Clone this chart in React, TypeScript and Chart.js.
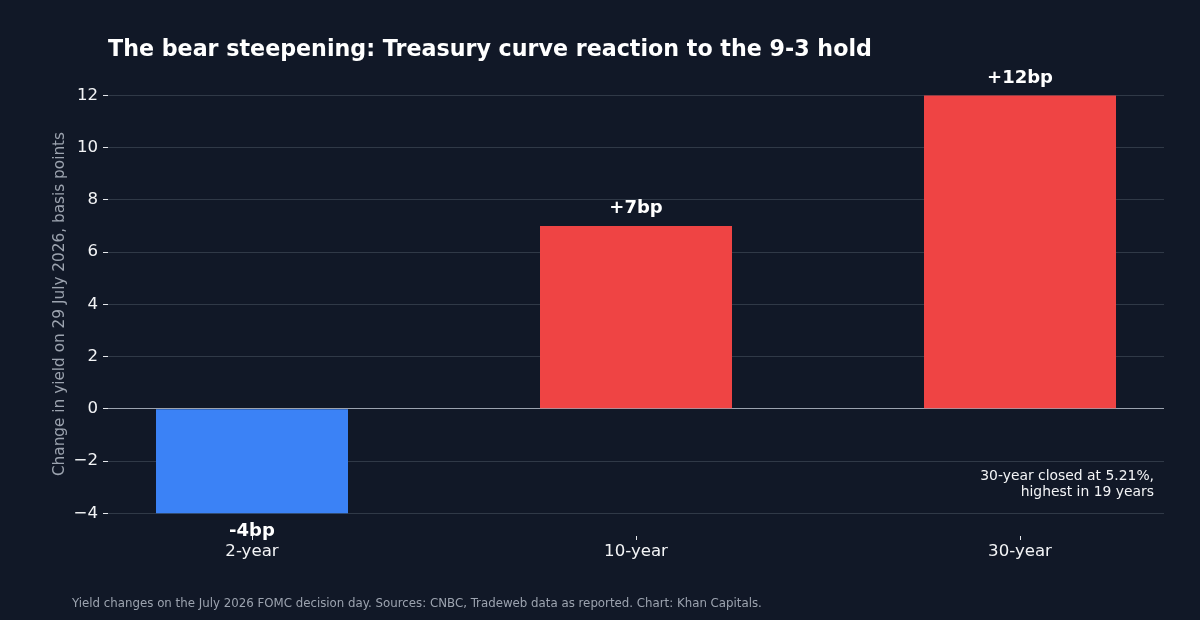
import React, { useEffect, useRef } from 'react';
import { Chart, ChartConfiguration, Plugin, registerables } from 'chart.js';

Chart.register(...registerables);

const categories = ['2-year', '10-year', '30-year'];
const yieldChanges = [-4, 7, 12];
const barColors = ['#3b82f6', '#ef4444', '#ef4444'];
const yTicks = [-4, -2, 0, 2, 4, 6, 8, 10, 12];

const TITLE = 'The bear steepening: Treasury curve reaction to the 9-3 hold';
const Y_TITLE = 'Change in yield on 29 July 2026, basis points';
const NOTE = ['30-year closed at 5.21%,', 'highest in 19 years'];
const FOOTER =
  'Yield changes on the July 2026 FOMC decision day. Sources: CNBC, Tradeweb data as reported. Chart: Khan Capitals.';

const FONT = '"DejaVu Sans", sans-serif';

const fmtBp = (v: number) => (v > 0 ? `+${v}bp` : `${v}bp`);

// draws title, axis title, bar labels, note and footer
const textPlugin: Plugin<'bar'> = {
  id: 'textPlugin',
  afterDatasetsDraw(chart) {
    const { ctx, chartArea } = chart;
    ctx.save();

    ctx.fillStyle = '#ffffff';
    ctx.font = `bold 22.2px ${FONT}`;
    ctx.textAlign = 'left';
    ctx.textBaseline = 'middle';
    ctx.fillText(TITLE, chartArea.left, 50);

    // y axis title
    ctx.save();
    ctx.translate(60, (chartArea.top + chartArea.bottom) / 2);
    ctx.rotate(-Math.PI / 2);
    ctx.fillStyle = '#9ca3af';
    ctx.font = `15.3px ${FONT}`;
    ctx.textAlign = 'center';
    ctx.fillText(Y_TITLE, 0, 0);
    ctx.restore();

    // value labels
    const meta = chart.getDatasetMeta(0);
    ctx.fillStyle = '#ffffff';
    ctx.font = `bold 18px ${FONT}`;
    ctx.textAlign = 'center';
    meta.data.forEach((el, i) => {
      const v = yieldChanges[i];
      const y = v >= 0 ? el.y - 17.5 : el.y + 18;
      ctx.fillText(fmtBp(v), el.x, y);
    });

    // note
    ctx.fillStyle = '#f3f4f6';
    ctx.font = `13.9px ${FONT}`;
    ctx.textAlign = 'right';
    const yScale = chart.scales.y;
    const noteY = yScale.getPixelForValue(-2.6);
    NOTE.forEach((line, i) => ctx.fillText(line, chartArea.right - 10, noteY + i * 16));

    // footer
    ctx.fillStyle = '#9ca3af';
    ctx.font = `11.8px ${FONT}`;
    ctx.textAlign = 'left';
    ctx.fillText(FOOTER, 72, 604);

    ctx.restore();
  }
};

export default function App() {
  const canvasRef = useRef<HTMLCanvasElement>(null);
  const chartRef = useRef<Chart | null>(null);

  useEffect(() => {
    document.body.style.margin = '0';
    if (!canvasRef.current) return;
    if (chartRef.current) chartRef.current.destroy();

    const config: ChartConfiguration<'bar'> = {
      type: 'bar',
      data: {
        datasets: [
          {
            data: yieldChanges.map((v, i) => ({ x: i, y: v })) as any,
            backgroundColor: barColors,
            borderWidth: 0,
            categoryPercentage: 1,
            barPercentage: 0.5
          }
        ]
      },
      options: {
        responsive: true,
        maintainAspectRatio: false,
        animation: false,
        layout: { padding: { left: 0, right: 36, top: 72, bottom: 44 } },
        plugins: {
          legend: { display: false },
          tooltip: { enabled: false }
        },
        scales: {
          x: {
            type: 'linear',
            min: -0.375,
            max: 2.375,
            offset: false,
            afterBuildTicks: (axis) => {
              axis.ticks = categories.map((_, i) => ({ value: i }));
            },
            afterFit: (axis) => {
              axis.height = 40;
            },
            ticks: {
              color: '#f3f4f6',
              font: { family: FONT, size: 16.6 },
              padding: 2,
              callback: (v) => categories[Number(v)] ?? ''
            },
            grid: {
              offset: false,
              drawOnChartArea: false,
              drawTicks: true,
              tickLength: 4,
              tickColor: '#e5e7eb'
            },
            border: { display: false }
          },
          y: {
            min: -4.87,
            max: 12.9,
            afterBuildTicks: (axis) => {
              axis.ticks = yTicks.map((v) => ({ value: v }));
            },
            afterFit: (axis) => {
              axis.width = 108;
            },
            ticks: {
              color: '#f3f4f6',
              font: { family: FONT, size: 16.6 },
              padding: 5,
              callback: (v) => String(v).replace('-', '\u2212')
            },
            grid: {
              color: (c) => (c.tick && c.tick.value === 0 ? '#9ca3af' : 'rgba(75, 85, 99, 0.55)'),
              lineWidth: 1,
              tickLength: 5,
              tickColor: '#e5e7eb'
            },
            border: { display: false }
          }
        }
      },
      plugins: [textPlugin]
    };

    chartRef.current = new Chart(canvasRef.current, config);
    return () => {
      chartRef.current?.destroy();
      chartRef.current = null;
    };
  }, []);

  return (
    <div style={{ position: 'relative', width: 1200, height: 620, background: '#111827' }}>
      <canvas ref={canvasRef} />
    </div>
  );
}
